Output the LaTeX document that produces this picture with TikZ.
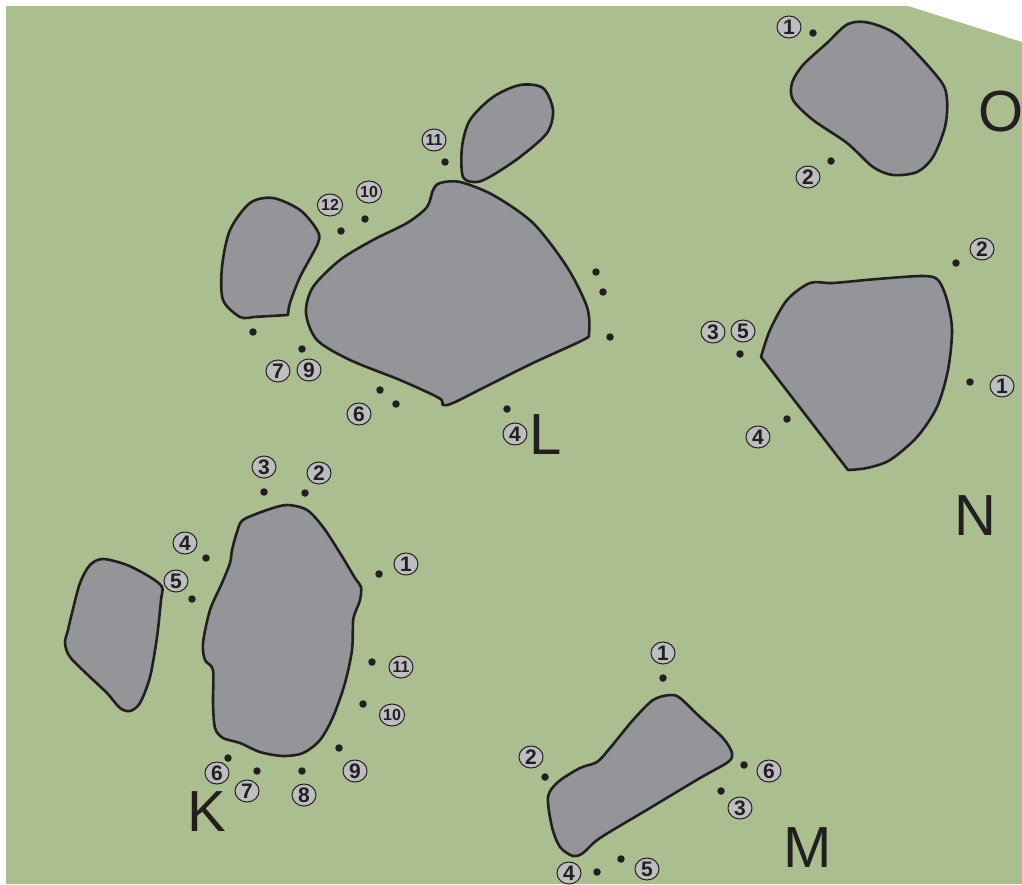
\documentclass[tikz,border=0pt]{standalone}
\usepackage{fontspec}
\setmainfont{Liberation Sans}
\usepackage{xcolor}
\usepackage{tikz}
\usetikzlibrary{shapes.geometric}

\definecolor{fieldgreen}{RGB}{170,190,144}
\definecolor{stonegrey}{RGB}{147,149,152}
\definecolor{taggrey}{RGB}{188,190,192}
\definecolor{inkblack}{RGB}{35,31,32}

\begin{document}
\begin{tikzpicture}[x=1pt,y=-1pt,
    stone/.style={draw=inkblack,fill=stonegrey,line width=2.6pt,line join=round},
    dot/.style={circle,fill=inkblack,inner sep=0pt,minimum size=7.5pt},
    tag/.style={ellipse,draw=inkblack,fill=taggrey,line width=1pt,inner sep=0pt,
        minimum width=24pt,minimum height=22pt,text=inkblack,
        font=\fontsize{21}{21}\selectfont\bfseries},
    tagtwo/.style={tag,font=\fontsize{16}{16}\selectfont\bfseries},
    letter/.style={inner sep=0pt,text=inkblack,font=\fontsize{58}{58}\selectfont}]

    \useasboundingbox (0,0) rectangle (1022,884);

    % Ground
    \fill[fieldgreen] (6,6) -- (908,6) -- (1022,42) -- (1022,884) -- (6,884) -- cycle;

    % Stone O
    \draw[stone] plot[smooth cycle] coordinates {(848,24) (870,23) (900,37) (940,80) (947,100)
        (945,127) (933,157) (917,172) (893,175) (873,167) (847,143) (813,120) (793,100)
        (792,83) (803,65) (827,43)};
    \node[dot] (o1d) at (813,33) {};
    \node[dot] (o2d) at (831,161) {};
    \node[tag] (o1) at (789,27) {1};
    \node[tag] (o2) at (808,177) {2};
    \node[letter] (O) at (1001,112) {O};

    % Stone N
    \draw[stone] plot[smooth] coordinates {(761,357) (770,330) (787,300) (810,283) (833,283)
        (877,279) (923,276) (938,280) (947,300) (952,330) (948,370) (937,407) (917,437)
        (890,460) (867,468) (848,470)} -- cycle;
    \node[dot] (n2d) at (956,263) {};
    \node[dot] (n1d) at (970,382) {};
    \node[dot] (n35d) at (740,354) {};
    \node[dot] (n4d) at (787,419) {};
    \node[tag] (n2) at (982,249) {2};
    \node[tag] (n1) at (1002,386) {1};
    \node[tag] (n3) at (713,332) {3};
    \node[tag] (n5) at (743,331) {5};
    \node[tag] (n4) at (758,437) {4};
    \node[letter] (N) at (975,516) {N};

    % Stones L
    \draw[stone] plot[smooth cycle] coordinates {(463,177) (462,147) (470,120) (493,97)
        (520,85) (543,88) (553,110) (547,133) (520,157) (493,175) (477,182)};
    \draw[stone] plot[smooth] coordinates {(288,315) (290,303) (300,277) (318,243) (317,230)
        (300,210) (273,198) (250,203) (230,230) (222,267) (223,300) (240,317) (253,317)} -- cycle;
    \draw[stone] plot[smooth cycle] coordinates {(440,183) (460,182) (493,195) (533,223)
        (567,267) (587,307) (589,333) (583,340) (533,363) (483,388) (453,403) (443,405)
        (439,398) (400,380) (350,360) (317,340) (306,313) (313,287) (340,260) (373,240)
        (407,223) (427,207) (433,190)};
    \node[dot] (l11d) at (445,162) {};
    \node[dot] (l12d) at (341,231) {};
    \node[dot] (l10d) at (365,219) {};
    \node[dot] (lra) at (596,272) {};
    \node[dot] (lrb) at (603,292) {};
    \node[dot] (lrc) at (610,337) {};
    \node[dot] (lla) at (253,332) {};
    \node[dot] (l79d) at (302,349) {};
    \node[dot] (lba) at (380,390) {};
    \node[dot] (l6d) at (396,404) {};
    \node[dot] (l4d) at (507,409) {};
    \node[tagtwo] (l11) at (434,140) {11};
    \node[tagtwo] (l12) at (330,205) {12};
    \node[tagtwo] (l10) at (369,192) {10};
    \node[tag] (l7) at (278,371) {7};
    \node[tag] (l9) at (309,370) {9};
    \node[tag] (l6) at (359,414) {6};
    \node[tag] (l4) at (515,434) {4};
    \node[letter] (L) at (546,435) {L};

    % Stones K
    \draw[stone] plot[smooth cycle] coordinates {(162,587) (150,577) (127,565) (103,559)
        (90,565) (80,583) (72,613) (68,630) (65,643) (70,657) (90,677) (107,693) (120,708)
        (130,711) (140,703) (150,677) (157,637) (161,600)};
    \draw[stone] plot[smooth cycle] coordinates {(243,520) (267,510) (287,505) (307,510)
        (323,527) (340,553) (355,578) (361,587) (360,600) (355,613) (353,622) (352,650)
        (345,683) (333,717) (320,740) (303,753) (283,756) (260,752) (240,743) (223,738)
        (215,728) (213,703) (213,670) (205,660) (203,643) (210,610) (222,583) (230,563)
        (232,550) (237,532)};
    \node[dot] (k3d) at (264,492) {};
    \node[dot] (k2d) at (305,493) {};
    \node[dot] (k4d) at (206,558) {};
    \node[dot] (k5d) at (192,599) {};
    \node[dot] (k1d) at (379,574) {};
    \node[dot] (k11d) at (372,662) {};
    \node[dot] (k10d) at (363,704) {};
    \node[dot] (k9d) at (339,748) {};
    \node[dot] (k8d) at (302,771) {};
    \node[dot] (k7d) at (257,771) {};
    \node[dot] (k6d) at (228,758) {};
    \node[tag] (k3) at (264,467) {3};
    \node[tag] (k2) at (319,473) {2};
    \node[tag] (k4) at (185,543) {4};
    \node[tag] (k5) at (176,581) {5};
    \node[tag] (k1) at (406,564) {1};
    \node[tagtwo] (k11) at (401,667) {11};
    \node[tagtwo] (k10) at (392,715) {10};
    \node[tag] (k9) at (355,771) {9};
    \node[tag] (k8) at (304,795) {8};
    \node[tag] (k7) at (247,791) {7};
    \node[tag] (k6) at (217,773) {6};
    \node[letter] (K) at (207,812) {K};

    % Stone M
    \draw[stone] plot[smooth cycle] coordinates {(670,695) (680,698) (700,717) (723,738)
        (732,753) (728,762) (700,778) (650,808) (600,838) (583,853) (573,856) (560,847)
        (552,827) (548,797) (558,782) (580,768) (597,762) (610,748) (633,720) (653,700)};
    \node[dot] (m1d) at (663,678) {};
    \node[dot] (m2d) at (545,777) {};
    \node[dot] (m6d) at (744,765) {};
    \node[dot] (m3d) at (721,791) {};
    \node[dot] (m4d) at (597,872) {};
    \node[dot] (m5d) at (621,859) {};
    \node[tag] (m1) at (663,653) {1};
    \node[tag] (m2) at (531,757) {2};
    \node[tag] (m6) at (769,771) {6};
    \node[tag] (m3) at (740,808) {3};
    \node[tag] (m4) at (569,873) {4};
    \node[tag] (m5) at (647,869) {5};
    \node[letter] (M) at (808,848) {M};

\end{tikzpicture}
\end{document}
